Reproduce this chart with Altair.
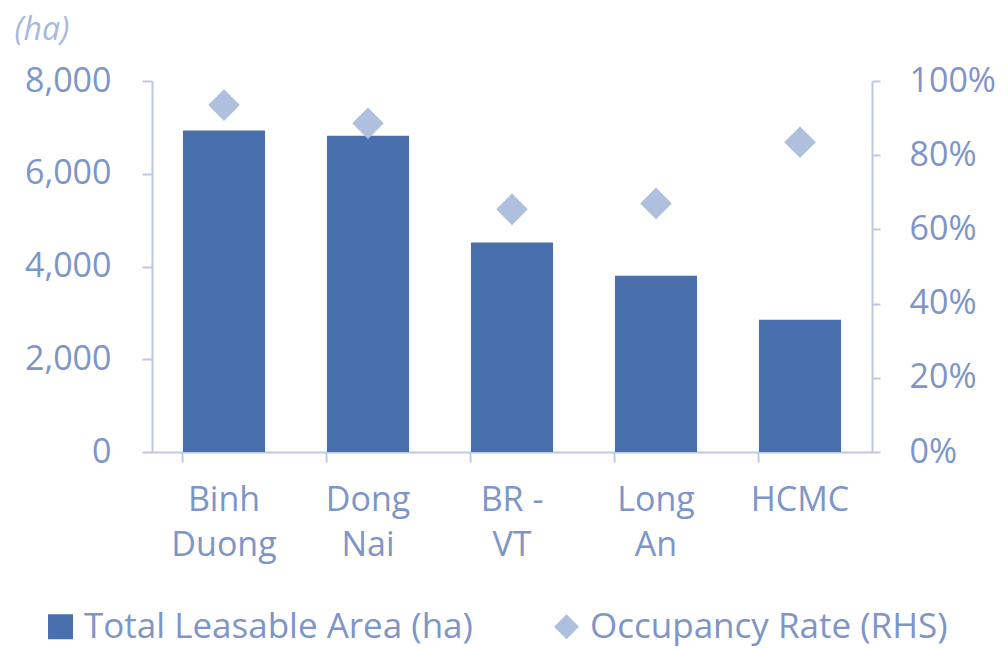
import altair as alt
import pandas as pd

regions = ["Binh|Duong", "Dong|Nai", "BR -|VT", "Long|An", "HCMC"]
area_ha = [6930, 6820, 4520, 3800, 2850]
occupancy_pct = [93.5, 88.6, 65.4, 67.0, 83.5]
series_names = ["Total Leasable Area (ha)", "Occupancy Rate (RHS)"]
y_left_ticks = [0, 2000, 4000, 6000, 8000]
y_right_ticks = [0, 20, 40, 60, 80, 100]

BAR_COLOR = "#4A6FAD"
DIAMOND_COLOR = "#AFC0DE"
TEXT_COLOR = "#7D95C8"
AXIS_COLOR = "#BCC9E4"
FONT = "Open Sans"
FS = 34

bars_df = pd.DataFrame({"region": regions, "area": area_ha, "series": series_names[0]})
pts_df = pd.DataFrame({"region": regions, "occ": occupancy_pct, "series": series_names[1]})

legend_cfg = dict(
    title=None,
    orient="none",
    direction="horizontal",
    legendX=-109,
    legendY=528,
    labelFontSize=35,
    labelFont=FONT,
    labelColor=TEXT_COLOR,
    labelLimit=0,
    symbolSize=625,
    symbolStrokeWidth=0,
    columnPadding=76,
    labelOffset=6,
)

x_enc = alt.X(
    "region:N",
    sort=regions,
    scale=alt.Scale(paddingInner=0.43, paddingOuter=0.215),
    axis=alt.Axis(
        title=None,
        labelExpr="split(datum.value, '|')",
        labelAngle=0,
        labelFontSize=FS,
        labelFont=FONT,
        labelColor=TEXT_COLOR,
        labelPadding=21,
        labelLineHeight=45,
        bandPosition=0,
        tickSize=10,
        tickColor=AXIS_COLOR,
        tickWidth=2,
        domainColor=AXIS_COLOR,
        domainWidth=2,
        grid=False,
    ),
)

color_enc = alt.Color(
    "series:N",
    scale=alt.Scale(domain=series_names, range=[BAR_COLOR, DIAMOND_COLOR]),
    legend=alt.Legend(**legend_cfg),
)
shape_enc = alt.Shape(
    "series:N",
    scale=alt.Scale(domain=series_names, range=["square", "diamond"]),
    legend=alt.Legend(**legend_cfg),
)

bars = alt.Chart(bars_df).mark_bar().encode(
    x=x_enc,
    y=alt.Y(
        "area:Q",
        scale=alt.Scale(domain=[0, 8000], nice=False),
        axis=alt.Axis(
            values=y_left_ticks,
            labelExpr="format(datum.value, ',.0f')",
            title="(ha)",
            titleAngle=0,
            titleX=-138,
            titleY=-52,
            titleAlign="left",
            titleBaseline="middle",
            titleFontStyle="italic",
            titleFontWeight="normal",
            titleFontSize=32,
            titleFont=FONT,
            titleColor="#A9B8DC",
            labelFontSize=FS,
            labelFont=FONT,
            labelColor=TEXT_COLOR,
            labelPadding=31,
            tickSize=10,
            tickColor=AXIS_COLOR,
            tickWidth=2,
            domainColor=AXIS_COLOR,
            domainWidth=2,
            grid=False,
        ),
    ),
    color=color_enc,
)

points = alt.Chart(pts_df).mark_point(filled=True, opacity=1, size=1000).encode(
    x=alt.X("region:N", sort=regions),
    y=alt.Y(
        "occ:Q",
        scale=alt.Scale(domain=[0, 100], nice=False),
        axis=alt.Axis(
            orient="right",
            values=y_right_ticks,
            labelExpr="datum.value + '%'",
            title=None,
            labelFontSize=FS,
            labelFont=FONT,
            labelColor=TEXT_COLOR,
            labelPadding=29,
            tickSize=8,
            tickColor=AXIS_COLOR,
            tickWidth=2,
            domainColor=AXIS_COLOR,
            domainWidth=2,
            grid=False,
        ),
    ),
    color=color_enc,
    shape=shape_enc,
)

chart = (
    alt.layer(bars, points)
    .resolve_scale(y="independent")
    .properties(
        width=720,
        height=371,
        autosize=alt.AutoSizeParams(type="none"),
        padding={"left": 152, "top": 81, "right": 136, "bottom": 198},
        background="white",
    )
    .configure_view(stroke=None)
)

chart.save("out.html", embed_options={"renderer": "svg", "actions": False})
